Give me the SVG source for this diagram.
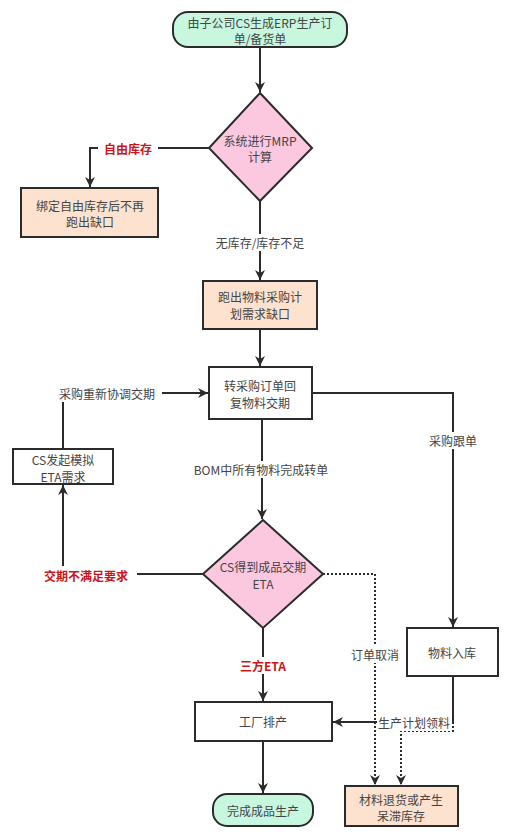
<svg xmlns="http://www.w3.org/2000/svg" width="512" height="832" viewBox="0 0 512 832">
<defs>
<marker id="ah" markerWidth="10" markerHeight="10" viewBox="0 0 10 10" refX="10" refY="5" orient="auto" markerUnits="userSpaceOnUse">
<path d="M0,0 L10,5 L0,10 L3,5 Z" fill="#2b2b2b"/>
</marker>
<style>
text{font-family:"Noto Sans CJK SC","Liberation Sans",sans-serif;font-size:12px;fill:#444;text-anchor:middle;dominant-baseline:central}
.red{fill:#c8161d;font-weight:bold}
.box{stroke:#2b2b2b;stroke-width:2}
.mint{fill:#c8f7e0}
.pink{fill:#fcc8e0}
.peach{fill:#fde3cf}
.white{fill:#ffffff}
.ln{fill:none;stroke:#2b2b2b;stroke-width:2}
.dot{fill:none;stroke:#2b2b2b;stroke-width:2;stroke-dasharray:2 2}
.bg{fill:#ffffff}
</style>
</defs>
<rect width="512" height="832" fill="#ffffff"/>
<g id="connectors">
<path class="ln" d="M260,47 V92" marker-end="url(#ah)"/>
<path class="ln" d="M209,148 H90 V187" marker-end="url(#ah)"/>
<path class="ln" d="M260,201 V280" marker-end="url(#ah)"/>
<path class="ln" d="M260,329 V366" marker-end="url(#ah)"/>
<path class="ln" d="M312,393 H453 V627" marker-end="url(#ah)"/>
<path class="ln" d="M262,419 V519" marker-end="url(#ah)"/>
<path class="ln" d="M203,574 H63 V485" marker-end="url(#ah)"/>
<path class="ln" d="M63,449 V393 H208" marker-end="url(#ah)"/>
<path class="ln" d="M263,628 V701" marker-end="url(#ah)"/>
<path class="ln" d="M263,741 V793" marker-end="url(#ah)"/>
<path class="ln" d="M453,676 V722 H333" marker-end="url(#ah)"/>
<path class="dot" d="M323,574 H375 V785" marker-end="url(#ah)"/>
<path class="dot" d="M453,722 V731 H401 V785" marker-end="url(#ah)"/>
<rect class="bg" x="98" y="140" width="60" height="17"/>
<text class="red" x="128" y="148">自由库存</text>
<rect class="bg" x="210" y="234" width="100" height="17"/>
<text x="260" y="242">无库存/库存不足</text>
<rect class="bg" x="193" y="461" width="137" height="17"/>
<text x="261" y="469">BOM中所有物料完成转单</text>
<rect class="bg" x="426" y="432" width="54" height="17"/>
<text x="453" y="440">采购跟单</text>
<rect class="bg" x="53" y="385" width="109" height="17"/>
<text x="107" y="393">采购重新协调交期</text>
<rect class="bg" x="36" y="566" width="101" height="17"/>
<text class="red" x="86" y="575">交期不满足要求</text>
<rect class="bg" x="236" y="657" width="54" height="17"/>
<text class="red" x="263" y="665">三方ETA</text>
<rect class="bg" x="348" y="646" width="54" height="17"/>
<text x="375" y="654">订单取消</text>
<rect class="bg" x="377" y="714" width="75" height="17"/>
<text x="414" y="722">生产计划领料</text>
</g>
<g id="start">
<rect class="box mint" x="173" y="12" width="174" height="35" rx="15"/>
<text x="260" y="22">由子公司CS生成ERP生产订</text>
<text x="260" y="38">单/备货单</text>
</g>
<g id="mrp">
<polygon class="box pink" points="260,93 312,148 260,201 209,148"/>
<text x="260" y="140">系统进行MRP</text>
<text x="260" y="156">计算</text>
</g>
<g id="bind">
<rect class="box peach" x="21" y="188" width="137" height="49"/>
<text x="90" y="205">绑定自由库存后不再</text>
<text x="90" y="221">跑出缺口</text>
</g>
<g id="gap">
<rect class="box peach" x="203" y="281" width="114" height="48"/>
<text x="260" y="296">跑出物料采购计</text>
<text x="260" y="313">划需求缺口</text>
</g>
<g id="po">
<rect class="box white" x="209" y="367" width="103" height="52"/>
<text x="260" y="385">转采购订单回</text>
<text x="260" y="402">复物料交期</text>
</g>
<g id="sim">
<rect class="box white" x="13" y="449" width="100" height="35"/>
<text x="63" y="459">CS发起模拟</text>
<text x="63" y="476">ETA需求</text>
</g>
<g id="eta">
<polygon class="box pink" points="263,520 323,574 263,628 203,574"/>
<text x="263" y="566">CS得到成品交期</text>
<text x="263" y="583">ETA</text>
</g>
<g id="inbound">
<rect class="box white" x="407" y="628" width="91" height="48"/>
<text x="452" y="652">物料入库</text>
</g>
<g id="factory">
<rect class="box white" x="195" y="702" width="137" height="39"/>
<text x="263" y="721">工厂排产</text>
</g>
<g id="finish">
<rect class="box mint" x="213" y="794" width="100" height="32" rx="14"/>
<text x="263" y="810">完成成品生产</text>
</g>
<g id="return">
<rect class="box peach" x="345" y="786" width="113" height="40"/>
<text x="401" y="799">材料退货或产生</text>
<text x="401" y="815">呆滞库存</text>
</g>
</svg>
